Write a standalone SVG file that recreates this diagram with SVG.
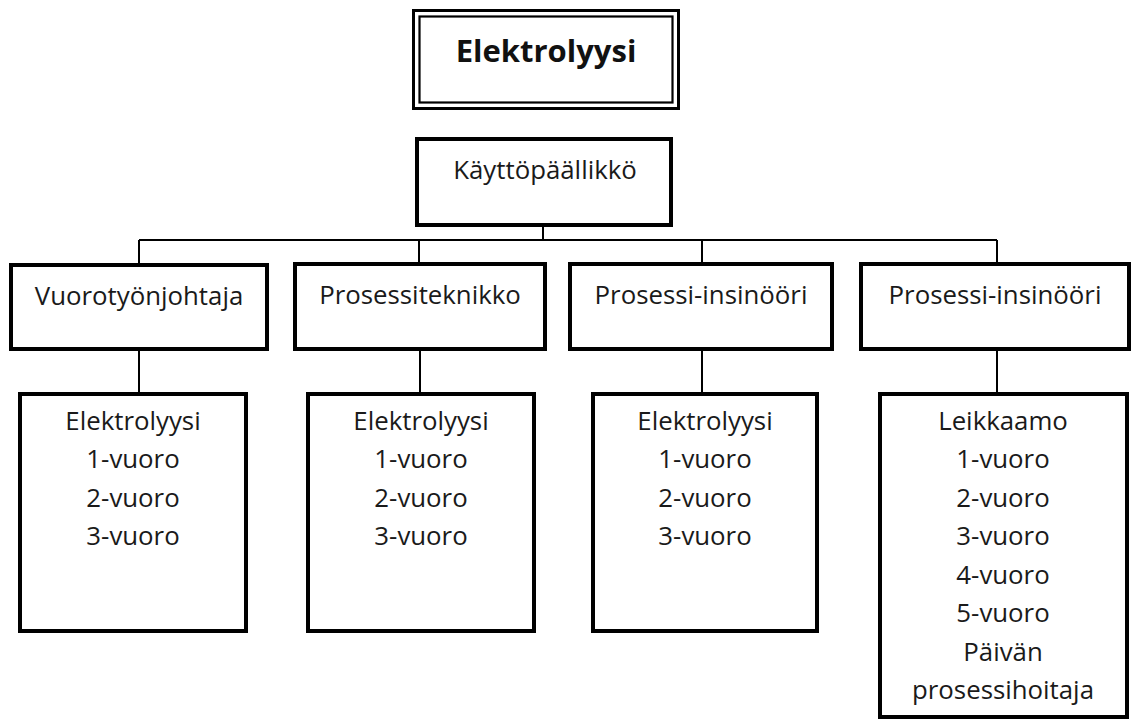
<svg xmlns="http://www.w3.org/2000/svg" width="1133" height="722" viewBox="0 0 1133 722">
  <style>
    .box { fill: #ffffff; stroke: #000000; stroke-width: 4; }
    .frame { fill: none; stroke: #000000; }
    .link { fill: none; stroke: #000000; stroke-width: 2; }
    text { font-family: "Open Sans", "Noto Sans", "Liberation Sans", sans-serif; font-size: 25.8px; fill: #1a1a1a; text-anchor: middle; }
    .title { font-weight: bold; font-size: 31px; fill: #111111; }
  </style>
  <rect width="1133" height="722" fill="#ffffff"/>

  <!-- connectors -->
  <g id="connectors" class="link">
    <path d="M543 226 V240 M139 240 H997"/>
    <path d="M139 240 V263 M419 240 V263 M702 240 V263 M997 240 V263"/>
    <path d="M139 349 V392 M420 349 V392 M702 349 V392 M997 349 V392"/>
  </g>

  <!-- header with double frame -->
  <g id="title">
    <rect x="413.5" y="10.5" width="265" height="98" class="frame" stroke-width="3"/>
    <rect x="419.5" y="16.5" width="253" height="86" class="frame" stroke-width="2.2"/>
    <text x="546" y="62" class="title">Elektrolyysi</text>
  </g>

  <g id="kayttopaallikko">
    <rect x="417" y="139" width="254" height="86" class="box"/>
    <text x="545" y="179">Käyttöpäällikkö</text>
  </g>

  <!-- second level -->
  <g id="vuorotyonjohtaja">
    <rect x="11" y="265" width="256" height="84" class="box"/>
    <text x="139" y="305">Vuorotyönjohtaja</text>
  </g>
  <g id="prosessiteknikko">
    <rect x="295" y="264" width="250" height="85" class="box"/>
    <text x="420" y="304">Prosessiteknikko</text>
  </g>
  <g id="prosessi-insinoori-1">
    <rect x="570" y="264" width="262" height="85" class="box"/>
    <text x="701" y="304">Prosessi-insinööri</text>
  </g>
  <g id="prosessi-insinoori-2">
    <rect x="861" y="264" width="268" height="85" class="box"/>
    <text x="995" y="304">Prosessi-insinööri</text>
  </g>

  <!-- third level -->
  <g id="elektrolyysi-1">
    <rect x="20" y="394" width="226" height="237" class="box"/>
    <text x="133" y="430">Elektrolyysi</text>
    <text x="133" y="468">1-vuoro</text>
    <text x="133" y="507">2-vuoro</text>
    <text x="133" y="545">3-vuoro</text>
  </g>
  <g id="elektrolyysi-2">
    <rect x="308" y="394" width="226" height="237" class="box"/>
    <text x="421" y="430">Elektrolyysi</text>
    <text x="421" y="468">1-vuoro</text>
    <text x="421" y="507">2-vuoro</text>
    <text x="421" y="545">3-vuoro</text>
  </g>
  <g id="elektrolyysi-3">
    <rect x="593" y="394" width="224" height="237" class="box"/>
    <text x="705" y="430">Elektrolyysi</text>
    <text x="705" y="468">1-vuoro</text>
    <text x="705" y="507">2-vuoro</text>
    <text x="705" y="545">3-vuoro</text>
  </g>
  <g id="leikkaamo">
    <rect x="880" y="394" width="247" height="323" class="box"/>
    <text x="1003" y="430">Leikkaamo</text>
    <text x="1003" y="468">1-vuoro</text>
    <text x="1003" y="507">2-vuoro</text>
    <text x="1003" y="545">3-vuoro</text>
    <text x="1003" y="584">4-vuoro</text>
    <text x="1003" y="622">5-vuoro</text>
    <text x="1003" y="661">Päivän</text>
    <text x="1003" y="699">prosessihoitaja</text>
  </g>
</svg>
